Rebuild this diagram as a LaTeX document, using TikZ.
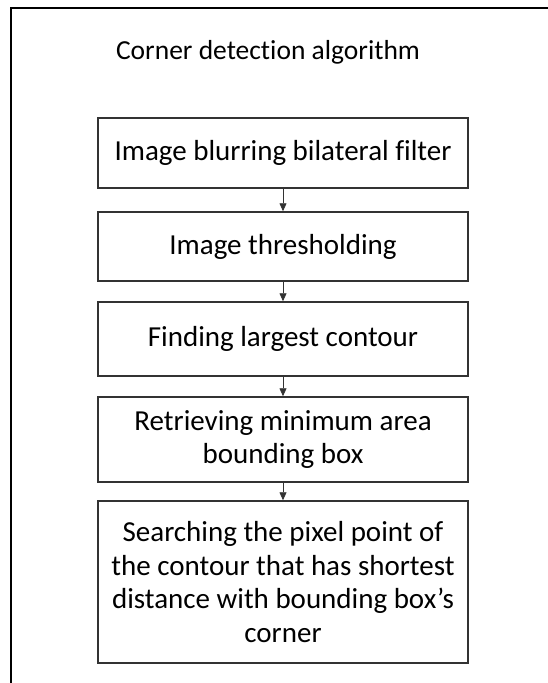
\documentclass[tikz,border=0pt]{standalone}
\usepackage{fontspec}
\setmainfont{Carlito}[Ligatures=NoCommon]
\usetikzlibrary{arrows.meta}
\begin{document}
\begin{tikzpicture}[x=1pt,y=-1pt,
  stepbox/.style={draw=black!80, line width=1.5pt, minimum width=370pt, align=center, inner sep=0pt, font=\fontsize{29}{33.5}\selectfont},
  arr/.style={draw=black!80, line width=0.8pt, -{Triangle[length=8pt,width=7pt]}},
  frame/.style={draw=black, line width=2pt}]
\useasboundingbox (0,0) rectangle (548,683);
\draw[frame] (11,684) -- (11,7.5) -- (549,7.5);
\node[font=\fontsize{27.5}{33}\selectfont, anchor=base] (title) at (268,59) {Corner detection algorithm};
\node[stepbox, minimum height=70pt] (b1) at (283,153) {Image blurring bilateral filter};
\node[stepbox, minimum height=69pt] (b2) at (283,246.5) {Image thresholding};
\node[stepbox, minimum height=74pt] (b3) at (283,339) {Finding largest contour};
\node[stepbox, minimum height=85pt] (b4) at (283,439.5) {Retrieving minimum area\\bounding box};
\node[stepbox, minimum height=162pt] (b5) at (283,582) {Searching the pixel point of\\the contour that has shortest\\distance with bounding box’s\\corner};
\draw[arr] (b1.south) -- (b2.north);
\draw[arr] (b2.south) -- (b3.north);
\draw[arr] (b3.south) -- (b4.north);
\draw[arr] (b4.south) -- (b5.north);
\end{tikzpicture}
\end{document}
